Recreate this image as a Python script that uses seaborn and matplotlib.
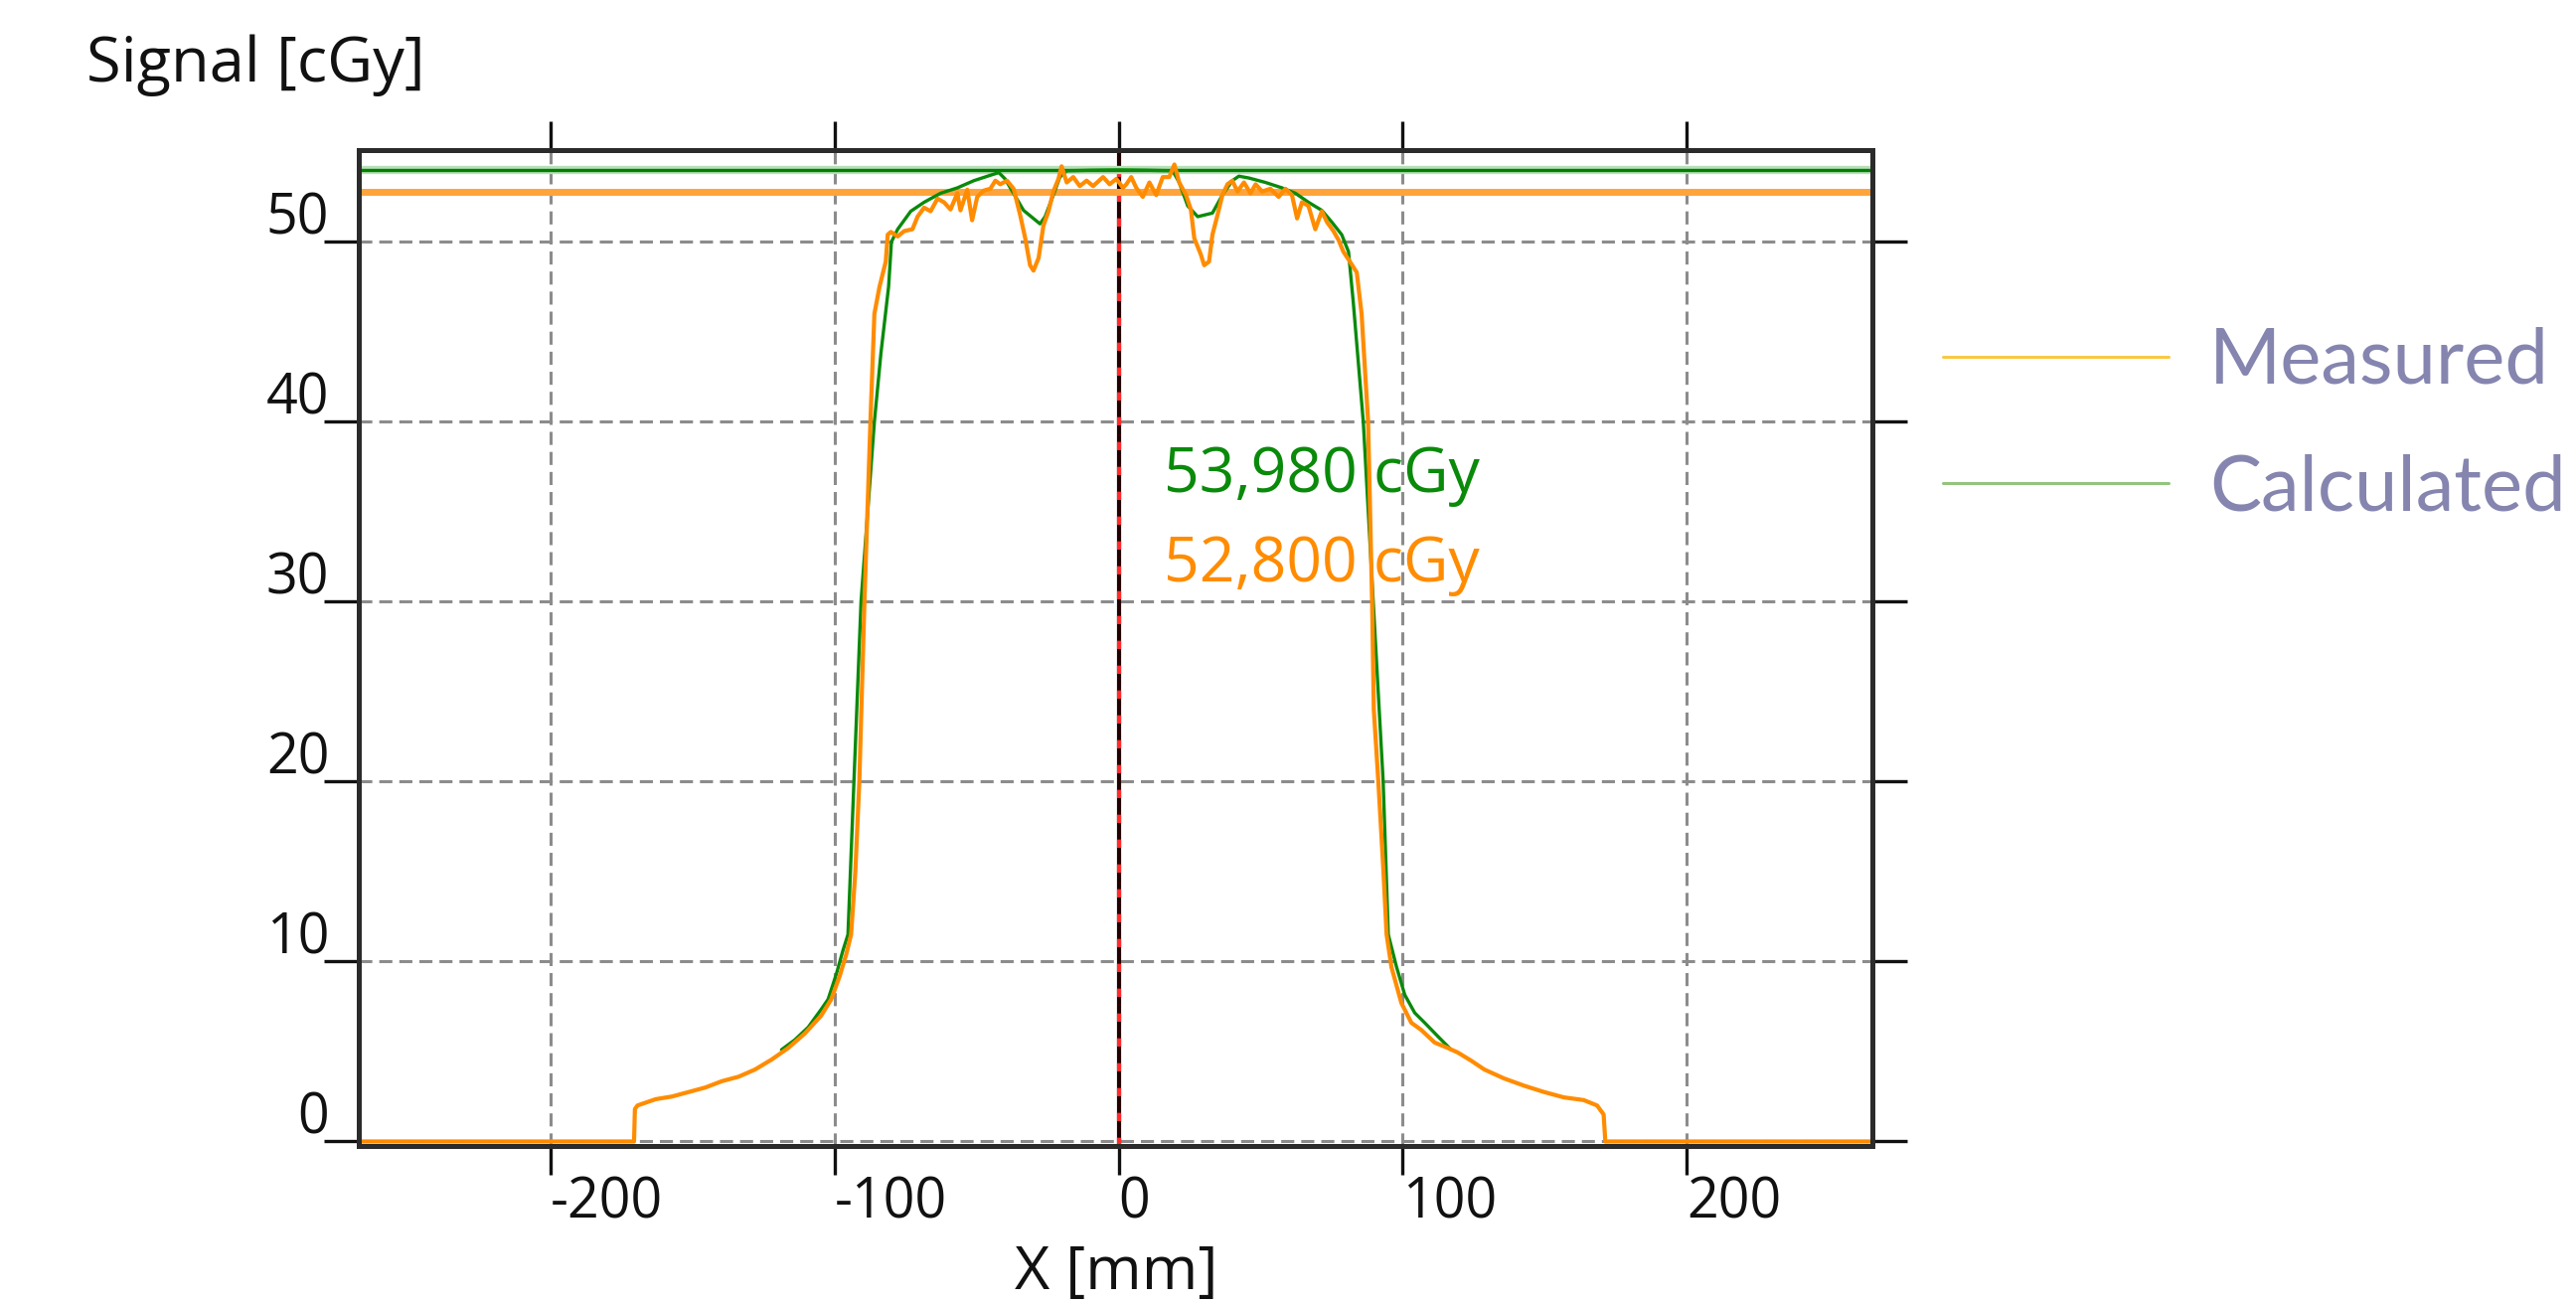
import numpy as np
import pandas as pd
import matplotlib
matplotlib.use("Agg")
import matplotlib.pyplot as plt
import seaborn as sns
from matplotlib.lines import Line2D
from matplotlib.font_manager import FontProperties
from matplotlib.transforms import ScaledTranslation

# ---------------- data ----------------
meas_x = [-268, -170.6, -170.3, -169.4, -163.0, -157.2, -151.3, -145.5, -139.7, -133.8,
          -128.0, -122.2, -116.3, -110.5, -104.7, -101.2, -98.2, -95.9, -94.2, -92.7,
          -91.3, -89.5, -87.4, -86.0, -84.2, -82.0, -81.3, -80.2, -77.8, -75.5,
          -72.6, -70.8, -68.5, -66.2, -63.8, -61.5, -59.2, -56.8, -55.7, -53.3,
          -51.6, -49.8, -47.5, -45.2, -43.4, -41.7, -39.3, -37.0, -34.7, -32.9,
          -31.2, -30.0, -28.2, -26.5, -24.7, -23.0, -21.2, -20.1, -18.3, -16.0,
          -13.7, -11.3, -9.0, -5.5, -3.2, -0.8, 1.5, 2.7, 4.4, 6.2,
          8.5, 10.8, 13.2, 15.5, 17.8, 19.6, 21.3, 23.7, 25.4, 26.6,
          28.9, 30.1, 31.8, 33.0, 34.8, 36.5, 38.3, 40.0, 41.8, 44.1,
          46.4, 48.2, 50.5, 53.4, 56.3, 58.7, 61.0, 62.8, 64.5, 66.8,
          69.2, 71.5, 73.3, 75.6, 77.4, 79.1, 81.4, 83.8, 85.5, 87.8,
          89.2, 89.8, 91.4, 93.2, 94.3, 96.0, 99.5, 103.0, 106.5, 111.2,
          115.8, 119.3, 124.0, 128.7, 135.7, 142.7, 149.7, 156.7, 163.7, 168.4,
          170.7, 171.3, 266]
meas_y = [0.0, 0.0, 1.8, 2.0, 2.35, 2.5, 2.75, 3.0, 3.35, 3.6,
          4.0, 4.55, 5.2, 6.0, 7.0, 7.9, 9.2, 10.4, 11.5, 15.0,
          20.0, 30.0, 40.0, 46.0, 47.5, 48.9, 50.4, 50.55, 50.3, 50.6,
          50.7, 51.4, 51.9, 51.7, 52.4, 52.2, 51.8, 52.7, 51.75, 52.9,
          51.2, 52.5, 52.85, 52.95, 53.4, 53.2, 53.4, 52.95, 51.5, 50.2,
          48.7, 48.4, 49.1, 50.9, 51.7, 52.8, 53.5, 54.2, 53.3, 53.6,
          53.1, 53.4, 53.1, 53.6, 53.2, 53.5, 53.0, 53.2, 53.6, 53.0,
          52.5, 53.3, 52.6, 53.6, 53.6, 54.3, 53.3, 52.6, 51.8, 50.2,
          49.3, 48.7, 48.9, 50.4, 51.5, 52.6, 53.2, 53.4, 52.8, 53.3,
          52.7, 53.2, 52.8, 52.95, 52.5, 52.95, 52.6, 51.3, 52.2, 52.0,
          50.7, 51.7, 51.1, 50.6, 50.1, 49.45, 48.9, 48.3, 46.0, 40.0,
          30.0, 24.0, 20.0, 15.0, 11.5, 9.7, 7.7, 6.6, 6.2, 5.5,
          5.2, 4.95, 4.5, 4.0, 3.5, 3.1, 2.75, 2.45, 2.3, 2.0,
          1.5, 0.0, 0.0]

calc_x = [-118.7, -114.0, -109.3, -104.7, -102.3, -99.4, -97.1, -95.3, -93.2, -90.7,
          -86.0, -83.7, -81.0, -80.0, -77.8, -73.2, -68.5, -62.7, -56.8, -51.0,
          -45.2, -42.2, -40.0, -33.5, -27.7, -25.9, -23.0, -20.7, -18.3, -10.0,
          0.0, 10.0, 19.0, 21.3, 24.3, 27.8, 33.0, 36.5, 40.0, 42.3,
          45.8, 51.7, 57.5, 62.2, 66.8, 71.5, 75.0, 78.5, 80.9, 82.6,
          86.1, 89.6, 93.1, 94.9, 97.8, 100.7, 104.2, 107.7, 112.3, 117.0]
calc_y = [5.1, 5.65, 6.35, 7.35, 7.9, 9.3, 10.6, 11.5, 20.0, 30.0,
          40.0, 43.8, 47.5, 50.0, 50.7, 51.7, 52.2, 52.7, 53.0, 53.4,
          53.7, 53.85, 53.5, 51.75, 51.0, 51.4, 52.6, 53.6, 53.95, 53.98,
          54.0, 53.98, 53.95, 53.3, 52.0, 51.4, 51.6, 52.6, 53.4, 53.65,
          53.55, 53.3, 53.0, 52.7, 52.2, 51.75, 51.1, 50.4, 49.45, 46.6,
          40.0, 30.0, 20.0, 11.5, 9.7, 8.15, 7.15, 6.6, 5.85, 5.1]

calc_level = 53.980   # cGy, calculated reference level
meas_level = 52.800   # cGy, measured reference level

x_ticks = [-200, -100, 0, 100, 200]
y_ticks = [0, 10, 20, 30, 40, 50]
legend_labels = ["Measured", "Calculated"]

# ---------------- style ----------------
sns.set_theme(style="white")
plt.rcParams["font.family"] = ["Open Sans", "DejaVu Sans"]

fig = plt.figure(figsize=(25.92, 13.13), dpi=100)
ax = fig.add_axes([361 / 2592, 1 - 1153 / 1313, (1884 - 361) / 2592, (1153 - 151) / 1313])

ax.set_xlim(-267.5, 265.3)
ax.set_ylim(-0.25, 55.1)

# grid
grid_kw = dict(color="#8c8c8c", lw=2.2, dashes=(4.3, 2.3), zorder=1)
for xv in x_ticks:
    ax.axvline(xv, **grid_kw)
for yv in y_ticks:
    ax.axhline(yv, **grid_kw)

# central axis line (red / black dashed)
ax.axvline(0, color="#220000", lw=3.0, zorder=2)
ax.axvline(0, color="#ff2a2a", lw=3.0, dashes=(2.0, 4.0), zorder=2.1)

# reference levels
ax.axhline(calc_level, color="#b9dfb9", lw=6.0, zorder=2.5)
ax.axhline(calc_level, color="#008000", lw=2.4, zorder=2.6)
ax.axhline(meas_level, color="#ffa43a", lw=5.0, zorder=2.7)

# curves
df_calc = pd.DataFrame({"x": calc_x, "y": calc_y})
df_meas = pd.DataFrame({"x": meas_x, "y": meas_y})
sns.lineplot(data=df_calc, x="x", y="y", ax=ax, color="#0a8a0a", lw=2.4,
             estimator=None, sort=False, zorder=3)
sns.lineplot(data=df_meas, x="x", y="y", ax=ax, color="#ff8c00", lw=3.0,
             estimator=None, sort=False, zorder=4)

# value annotations
def fmt(v):
    return f"{v:.3f}".replace(".", ",") + " cGy"

ax.text(16.0, 37.0, fmt(calc_level), color="#0a8a0a", fontsize=45, va="center", ha="left", zorder=5)
ax.text(16.0, 32.0, fmt(meas_level), color="#ff8c00", fontsize=45, va="center", ha="left", zorder=5)

# spines
for s in ax.spines.values():
    s.set_visible(True)
    s.set_color("#2b2b2b")
    s.set_linewidth(3.6)
    s.set_zorder(6)

# ticks
ax.set_xticks(x_ticks)
ax.set_yticks(y_ticks)
ax.set_xticklabels([str(v) for v in x_ticks], ha="left")
ax.set_yticklabels([str(v) for v in y_ticks], va="baseline")
ax.tick_params(axis="x", which="major", direction="out", top=True, bottom=True,
               length=21, width=2.4, color="#111111", labelsize=40, pad=0,
               labelcolor="#111111")
ax.tick_params(axis="y", which="major", direction="out", left=True, right=True,
               length=25, width=2.4, color="#111111", labelsize=40, pad=-3.6,
               labelcolor="#111111")
off = ScaledTranslation(0, 8 / 100, fig.dpi_scale_trans)
for lab in ax.get_yticklabels():
    lab.set_transform(lab.get_transform() + off)

# axis labels
ax.set_xlabel("X [mm]", fontsize=44, color="#111111")
ax.xaxis.set_label_coords(0.5003, -0.128)
ax.xaxis.label.set_va("center")
ax.set_ylabel("Signal [cGy]", fontsize=45.5, color="#111111", rotation=0, ha="left", va="center")
ax.yaxis.set_label_coords((87 - 361) / 1523, (1153 - 66) / 1002)

# legend outside on the right
handles = [Line2D([], [], color="#f9c846", lw=2.2), Line2D([], [], color="#93c47d", lw=2.2)]
fig.legend(handles, legend_labels, loc="center left", bbox_to_anchor=(1955 / 2592, 1 - 428 / 1313),
           frameon=False, prop=FontProperties(family="Lato", size=56), labelcolor="#8585b0",
           handlelength=2.92, handletextpad=0.53, labelspacing=0.72, borderpad=0, borderaxespad=0)

fig.savefig("out.png", dpi=100, facecolor="white")
